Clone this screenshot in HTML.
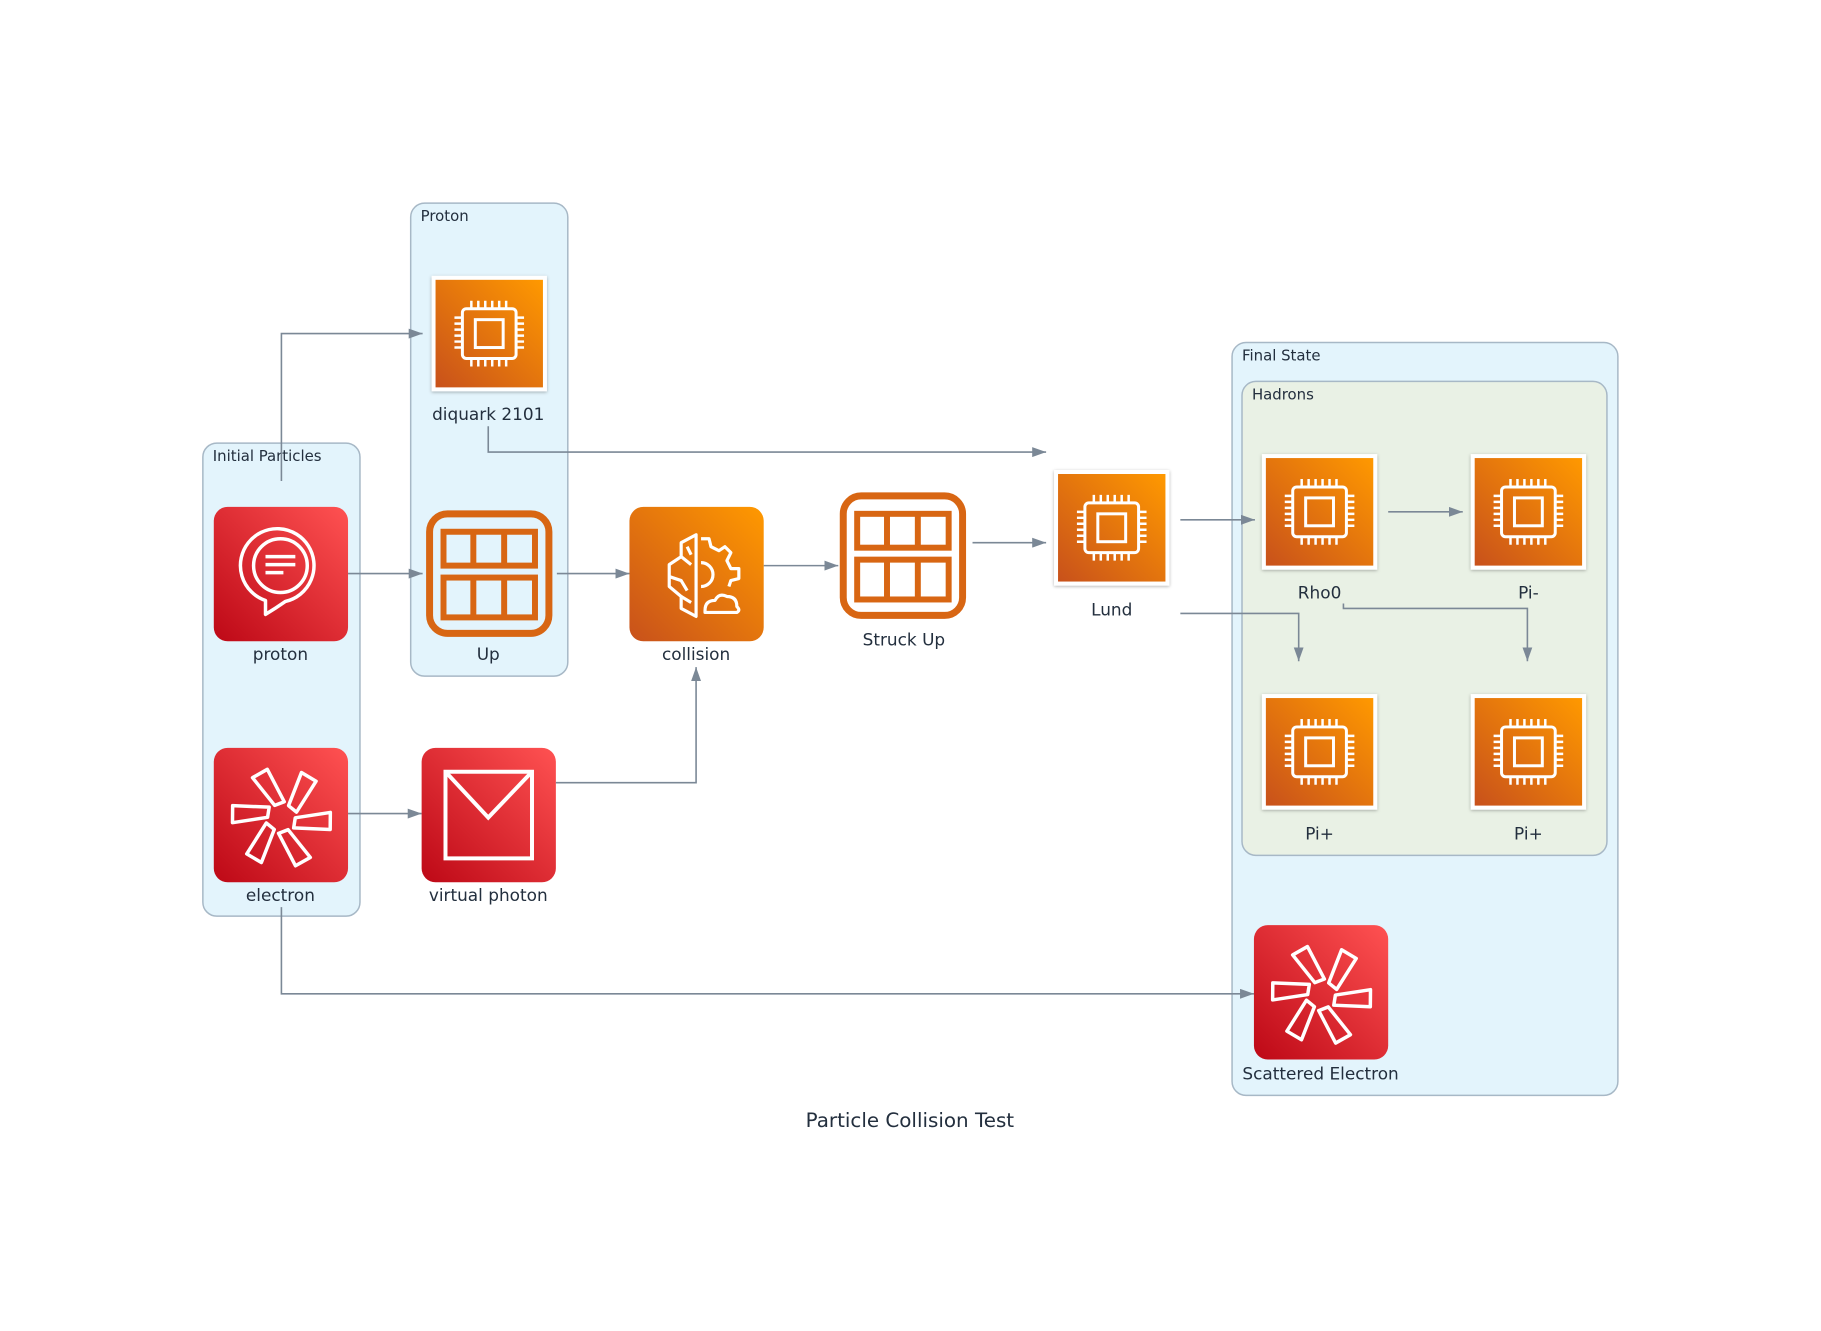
<!DOCTYPE html>
<html><head><meta charset="utf-8"><style>
html,body{margin:0;padding:0;background:#fff;}
svg{display:block;}
text{font-family:"DejaVu Sans","Liberation Sans",sans-serif;fill:#232f3e;}
</style></head><body>
<svg width="1821" height="1331" viewBox="0 0 1821 1331" xmlns="http://www.w3.org/2000/svg">
<defs>
<linearGradient id="og" x1="0" y1="1" x2="1" y2="0"><stop offset="0" stop-color="#c8511b"/><stop offset="1" stop-color="#ff9900"/></linearGradient>
<linearGradient id="rg" x1="0" y1="1" x2="1" y2="0"><stop offset="0" stop-color="#bd0816"/><stop offset="1" stop-color="#ff5252"/></linearGradient>
<marker id="ar" viewBox="0 0 14 10" refX="14" refY="5" markerWidth="14" markerHeight="10" markerUnits="userSpaceOnUse" orient="auto"><path d="M0,0 L14,5 L0,10 z" fill="#7b8896"/></marker>
<filter id="sh" x="-10%" y="-10%" width="120%" height="120%"><feDropShadow dx="0" dy="1" stdDeviation="1.5" flood-color="#000" flood-opacity="0.3"/></filter>
<g id="chip">
<rect x="0" y="0" width="116" height="116" fill="#fff" filter="url(#sh)"/>
<rect x="4" y="4" width="108" height="108" fill="url(#og)"/>
<g fill="none" stroke="#fff" stroke-width="3">
<rect x="31" y="33" width="54" height="50" rx="4"/>
<rect x="44" y="44" width="28" height="28"/>
<path d="M40,25v8M47,25v8M54,25v8M61,25v8M68,25v8M75,25v8M40,83v8M47,83v8M54,83v8M61,83v8M68,83v8M75,83v8M23,42h8M23,48h8M23,54h8M23,60h8M23,66h8M23,72h8M85,42h8M85,48h8M85,54h8M85,60h8M85,66h8M85,72h8" stroke-width="2.5"/>
</g>
</g>
<g id="grid">
<rect x="4" y="4" width="120" height="120" rx="18" fill="none" stroke="#d86613" stroke-width="7"/>
<g fill="none" stroke="#d86613" stroke-width="6">
<rect x="18" y="22" width="92" height="34"/><path d="M48,22v34M79,22v34"/>
<rect x="18" y="68" width="92" height="40"/><path d="M48,68v40M79,68v40"/>
</g>
</g>
<g id="star">
<rect width="135" height="135" rx="14" fill="url(#rg)"/>
<g fill="none" stroke="#fff" stroke-width="3.5" stroke-linejoin="round" transform="translate(68,70) rotate(10)">
<g id="blade"><path d="M5,-13 L12,-48 L28,-42 L14,-8 z"/></g>
<use href="#blade" transform="rotate(60)"/><use href="#blade" transform="rotate(120)"/><use href="#blade" transform="rotate(180)"/><use href="#blade" transform="rotate(240)"/><use href="#blade" transform="rotate(300)"/>
</g>
</g>
</defs>
<g transform="scale(0.9944,0.9958)">
<!-- clusters -->
<rect x="204" y="445" width="158" height="475" rx="14" fill="#e3f4fc" stroke="#a7b8c6" stroke-width="1.5"/>
<text x="214" y="463" font-size="15">Initial Particles</text>
<rect x="413" y="204" width="158" height="475" rx="14" fill="#e3f4fc" stroke="#a7b8c6" stroke-width="1.5"/>
<text x="423" y="222" font-size="15">Proton</text>
<rect x="1239" y="344" width="388" height="756" rx="14" fill="#e3f4fc" stroke="#a7b8c6" stroke-width="1.5"/>
<text x="1249" y="362" font-size="15">Final State</text>
<rect x="1249" y="383" width="367" height="476" rx="14" fill="#e9f1e5" stroke="#a7b8c6" stroke-width="1.5"/>
<text x="1259" y="401" font-size="15">Hadrons</text>

<!-- edges -->
<g fill="none" stroke="#7b8896" stroke-width="1.6" marker-end="url(#ar)">
<path d="M283,483 V335 H425"/>
<path d="M350,576 H425"/>
<path d="M560,576 H633"/>
<path d="M768,568 H843"/>
<path d="M978,545 H1052"/>
<path d="M491,428 V454 H1052"/>
<path d="M1187,522 H1262"/>
<path d="M1396,514 H1471"/>
<path d="M1187,616 H1306 V664"/>
<path d="M1351,606 V611 H1536 V664"/>
<path d="M350,817 H424"/>
<path d="M559,786 H700 V670"/>
<path d="M283,911 V998 H1261"/>
</g>

<!-- nodes -->
<g transform="translate(215,509)">
<rect width="135" height="135" rx="14" fill="url(#rg)"/>
<g fill="none" stroke="#fff" stroke-width="3.5" stroke-linejoin="round">
<path d="M52,108 L52,94 A37,37 0 1 1 72,95 Q62,102 52,108 z"/>
<circle cx="67" cy="59" r="27"/>
<path d="M52,50h30M52,58h30M52,66h18"/>
</g>
</g>
<text x="282" y="663" font-size="17" text-anchor="middle">proton</text>

<use href="#star" x="215" y="751"/>
<text x="282" y="905" font-size="17" text-anchor="middle">electron</text>

<use href="#chip" x="434" y="277"/>
<text x="491" y="422" font-size="17" text-anchor="middle">diquark 2101</text>

<use href="#grid" x="428" y="512"/>
<text x="491" y="663" font-size="17" text-anchor="middle">Up</text>

<g transform="translate(424,751)">
<rect width="135" height="135" rx="14" fill="url(#rg)"/>
<rect x="24" y="24" width="87" height="87" fill="none" stroke="#fff" stroke-width="4"/>
<path d="M24,24 L67,70 L111,24" fill="none" stroke="#fff" stroke-width="4"/>
</g>
<text x="491" y="905" font-size="17" text-anchor="middle">virtual photon</text>

<g transform="translate(633,509)">
<rect width="135" height="135" rx="14" fill="url(#og)"/>
<g fill="none" stroke="#fff" stroke-width="3.2" stroke-linejoin="round">
<path d="M67,28 L52,36 L52,50 L40,58 L40,80 L52,90 L52,102 L67,110 z"/>
<path d="M52,50 L62,58 M40,70 L52,74 L58,84 M52,90 L62,96 M58,40 L62,48"/>
<path d="M72,32 L80,32 L82,40 L90,44 L96,40 L102,46 L98,54 L102,62 L110,62 L110,72 L102,74 L100,80"/>
<path d="M72,56 A12,12 0 0 1 72,80"/>
<path d="M76,104 Q76,94 86,94 Q90,86 98,90 Q108,90 108,100 Q112,104 108,106 L76,106 z"/>
</g>
</g>
<text x="700" y="663" font-size="17" text-anchor="middle">collision</text>

<use href="#grid" x="844" y="494"/>
<text x="909" y="648" font-size="17" text-anchor="middle">Struck Up</text>

<use href="#chip" x="1060" y="472"/>
<text x="1118" y="618" font-size="17" text-anchor="middle">Lund</text>

<use href="#chip" x="1269" y="456"/>
<text x="1327" y="601" font-size="17" text-anchor="middle">Rho0</text>
<use href="#chip" x="1479" y="456"/>
<text x="1537" y="601" font-size="17" text-anchor="middle">Pi-</text>
<use href="#chip" x="1269" y="697"/>
<text x="1327" y="843" font-size="17" text-anchor="middle">Pi+</text>
<use href="#chip" x="1479" y="697"/>
<text x="1537" y="843" font-size="17" text-anchor="middle">Pi+</text>

<use href="#star" x="1261" y="929"/>
<text x="1328" y="1084" font-size="17" text-anchor="middle">Scattered Electron</text>

<text x="915" y="1132" font-size="20" text-anchor="middle">Particle Collision Test</text>
</g>
</svg>
</body></html>
